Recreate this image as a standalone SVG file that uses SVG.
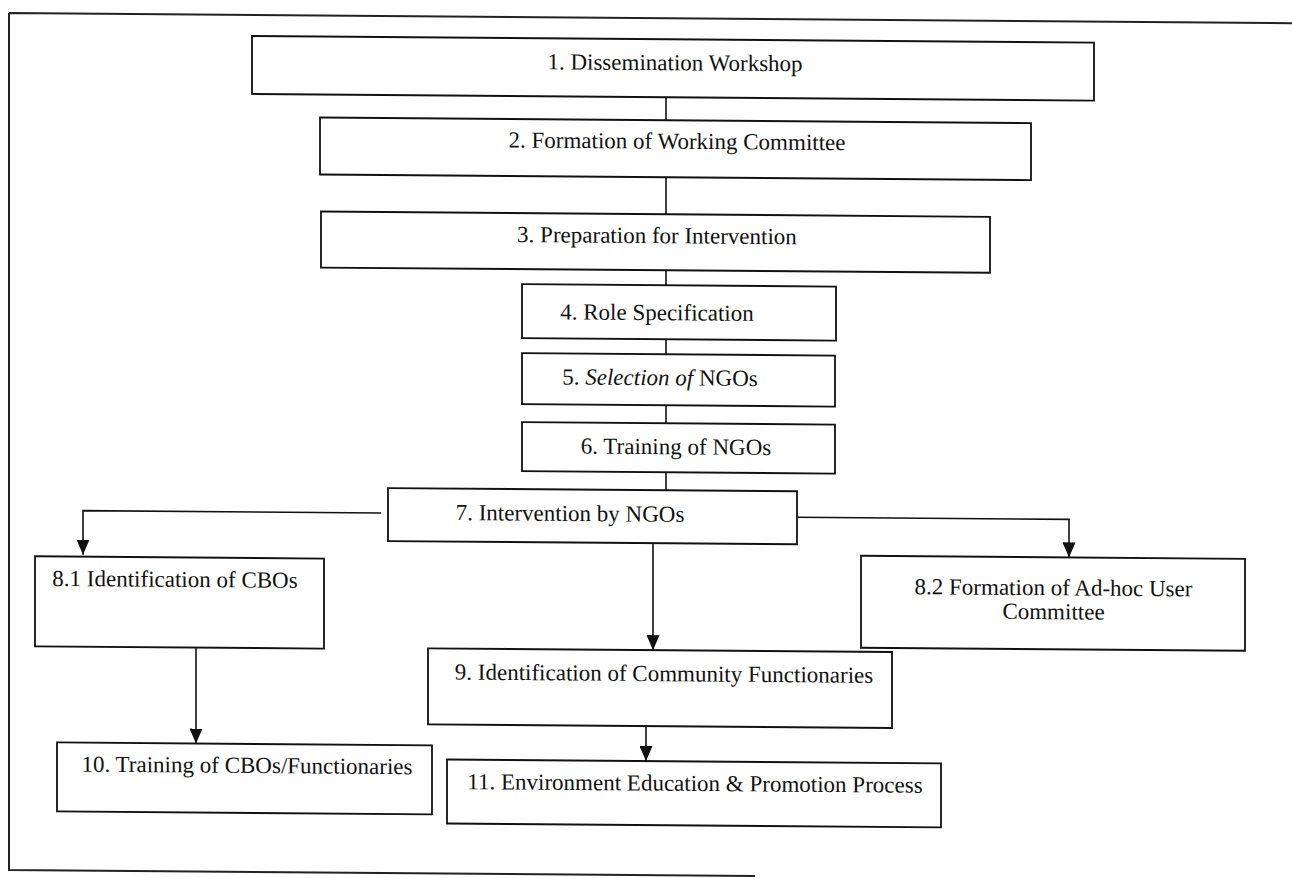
<svg xmlns="http://www.w3.org/2000/svg" width="1292" height="878" viewBox="0 0 1292 878">
<defs>
<marker id="arrow" viewBox="0 0 15 13" refX="15" refY="6.5" markerWidth="15" markerHeight="13" markerUnits="userSpaceOnUse" orient="auto"><path d="M0,0 L15,6.5 L0,13 Z" fill="#111"/></marker>
<style>
.box{fill:#fff;stroke:#111;stroke-width:1.8}
.lbl{font-family:"Liberation Serif","Times New Roman",serif;font-size:23px;fill:#111;text-anchor:middle}
.conn{fill:none;stroke:#111;stroke-width:1.6}
.arr{fill:none;stroke:#111;stroke-width:1.6;marker-end:url(#arrow)}
.frame{fill:none;stroke:#222;stroke-width:2}
</style>
</defs>
<rect width="1292" height="878" fill="#fff"/>
<g transform="skewY(0.45)">
<g id="frame"><path class="frame" d="M9,13 H1292 M9,13 V870 H755"/></g>
<g id="connectors">
<path class="conn" d="M666,92 V115"/>
<path class="conn" d="M666,172 V209"/>
<path class="conn" d="M666,265 V280"/>
<path class="conn" d="M666,334 V349"/>
<path class="conn" d="M666,400 V418"/>
<path class="conn" d="M666,467 V485"/>
<path class="arr" d="M381,510 H83 V554"/>
<path class="arr" d="M797,511 H1069 V549"/>
<path class="arr" d="M653,538 V645"/>
<path class="arr" d="M196,646 V742"/>
<path class="arr" d="M646,721 V756"/>
</g>
<g id="n1"><rect class="box" x="252" y="34" width="842" height="58"/><text class="lbl" x="675" y="65">1. Dissemination Workshop</text></g>
<g id="n2"><rect class="box" x="320" y="115" width="711" height="57"/><text class="lbl" x="677" y="143.5">2. Formation of Working Committee</text></g>
<g id="n3"><rect class="box" x="321" y="209" width="669" height="56"/><text class="lbl" x="657" y="238">3. Preparation for Intervention</text></g>
<g id="n4"><rect class="box" x="522" y="280" width="314" height="54"/><text class="lbl" x="657" y="315">4. Role Specification</text></g>
<g id="n5"><rect class="box" x="522" y="349" width="313" height="51"/><text class="lbl" x="660" y="380">5. <tspan font-style="italic">Selection of</tspan> NGOs</text></g>
<g id="n6"><rect class="box" x="522" y="418" width="313" height="49"/><text class="lbl" x="676" y="449">6. Training of NGOs</text></g>
<g id="n7"><rect class="box" x="388" y="485" width="409" height="53"/><text class="lbl" x="570" y="516.5">7. Intervention by NGOs</text></g>
<g id="n8-1"><rect class="box" x="35" y="556" width="289" height="90"/><text class="lbl" x="175" y="585.5">8.1 Identification of CBOs</text></g>
<g id="n8-2"><rect class="box" x="861" y="549" width="384" height="92"/><text class="lbl" x="1053.5" y="587">8.2 Formation of Ad-hoc User</text><text class="lbl" x="1053.5" y="611">Committee</text></g>
<g id="n9"><rect class="box" x="428" y="645" width="464" height="76"/><text class="lbl" x="664" y="676">9. Identification of Community Functionaries</text></g>
<g id="n10"><rect class="box" x="57" y="742" width="375" height="69"/><text class="lbl" x="247" y="771">10. Training of CBOs/Functionaries</text></g>
<g id="n11"><rect class="box" x="447" y="756" width="494" height="64"/><text class="lbl" x="695" y="785.5">11. Environment Education &amp; Promotion Process</text></g>
</g>
</svg>
